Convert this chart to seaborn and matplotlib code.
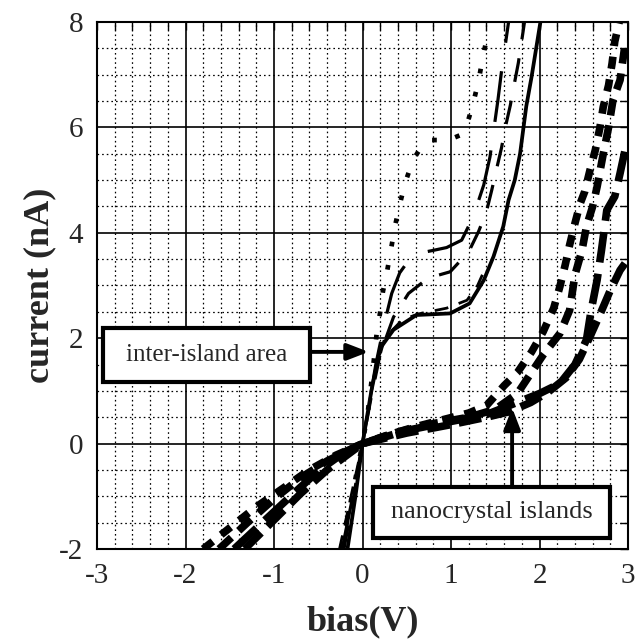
import numpy as np
import pandas as pd
import seaborn as sns
import matplotlib.pyplot as plt
from matplotlib.patches import Rectangle
from matplotlib.ticker import MultipleLocator

# inter-island area curves
dot_x = [-0.24, -0.12, 0.0, 0.06, 0.11, 0.16, 0.20, 0.23, 0.28, 0.32, 0.37, 0.42, 0.48, 0.57, 0.66, 0.75, 0.86, 0.97, 1.10, 1.18, 1.25, 1.31, 1.35, 1.40]
dot_y = [-2.0, -1.0, 0.0, 0.6, 1.3, 2.09, 2.50, 2.88, 3.29, 3.67, 4.15, 4.53, 4.94, 5.38, 5.62, 5.76, 5.76, 5.76, 5.85, 6.05, 6.46, 6.87, 7.25, 7.66]

ldash_x = [-0.23, -0.11, 0.0, 0.08, 0.15, 0.25, 0.33, 0.42, 0.54, 0.66, 0.78, 0.95, 1.12, 1.25, 1.37, 1.44, 1.53, 1.57, 1.65]
ldash_y = [-2.0, -1.0, 0.0, 0.8, 1.5, 2.3, 2.85, 3.24, 3.52, 3.62, 3.66, 3.72, 3.86, 4.30, 4.91, 5.44, 6.52, 7.06, 8.0]

sdash_x = [-0.21, -0.10, 0.0, 0.10, 0.20, 0.35, 0.52, 0.74, 0.99, 1.20, 1.31, 1.40, 1.46, 1.52, 1.57, 1.62, 1.67, 1.72, 1.76, 1.80, 1.83]
sdash_y = [-2.0, -1.0, 0.0, 0.9, 1.7, 2.40, 2.85, 3.14, 3.26, 3.64, 4.02, 4.40, 4.81, 5.25, 5.61, 6.05, 6.42, 6.87, 7.22, 7.66, 8.0]

solid_x = [-0.17, -0.08, 0.0, 0.10, 0.20, 0.35, 0.61, 0.99, 1.21, 1.37, 1.48, 1.59, 1.65, 1.72, 1.78, 1.85, 1.91, 2.01]
solid_y = [-2.0, -1.0, 0.0, 1.0, 1.81, 2.16, 2.44, 2.47, 2.66, 3.10, 3.55, 4.12, 4.62, 5.00, 5.50, 6.40, 6.96, 8.0]

fdash_x = [-0.26, -0.13, 0.0, 0.12, 0.25, 0.45, 0.63, 0.95, 1.18, 1.30, 1.38]
fdash_y = [-2.0, -1.0, 0.0, 1.2, 2.0, 2.35, 2.46, 2.57, 2.72, 3.00, 3.30]

# nanocrystal island curves
nc1_x = [-1.80, -1.50, -1.20, -0.90, -0.60, -0.30, 0.0, 0.30, 0.60, 0.90, 1.20, 1.40, 1.60, 1.75, 1.91, 2.04, 2.16, 2.23, 2.29, 2.34, 2.40, 2.46, 2.51, 2.57, 2.63, 2.68, 2.72, 2.78, 2.82, 2.85, 2.90]
nc1_y = [-2.0, -1.6, -1.2, -0.85, -0.5, -0.22, 0.0, 0.17, 0.32, 0.45, 0.58, 0.72, 1.10, 1.35, 1.74, 2.12, 2.57, 2.98, 3.39, 3.77, 4.18, 4.56, 4.78, 5.19, 5.57, 5.98, 6.39, 6.80, 7.22, 7.63, 8.0]

nc2_x = [-1.62, -1.30, -1.00, -0.70, -0.40, 0.0, 0.40, 0.80, 1.20, 1.50, 1.75, 2.04, 2.23, 2.34, 2.40, 2.48, 2.53, 2.60, 2.65, 2.72, 2.78, 2.83, 2.91, 2.96]
nc2_y = [-2.0, -1.5, -1.05, -0.65, -0.33, 0.0, 0.22, 0.38, 0.50, 0.65, 0.95, 1.68, 2.09, 2.53, 3.20, 3.67, 4.12, 4.50, 4.87, 5.50, 6.00, 6.52, 6.90, 7.50]

nc3_x = [-1.45, -1.10, -0.80, -0.50, -0.20, 0.0, 0.50, 1.00, 1.40, 1.70, 2.00, 2.23, 2.40, 2.53, 2.58, 2.65, 2.70, 2.76, 2.85, 2.91, 2.97]
nc3_y = [-2.0, -1.45, -0.98, -0.52, -0.16, 0.0, 0.25, 0.42, 0.55, 0.75, 0.95, 1.14, 1.50, 1.97, 2.50, 3.10, 3.67, 4.43, 4.69, 5.13, 5.60]

nc4_x = [-1.33, -1.00, -0.70, -0.40, 0.0, 0.50, 1.00, 1.40, 1.65, 1.90, 2.10, 2.30, 2.45, 2.57, 2.68, 2.80, 2.91, 3.00]
nc4_y = [-2.0, -1.45, -0.95, -0.50, 0.0, 0.20, 0.36, 0.50, 0.60, 0.78, 0.98, 1.25, 1.60, 2.03, 2.44, 2.91, 3.29, 3.50]

sns.set_style('white')
plt.rcParams['font.family'] = ['Liberation Serif', 'DejaVu Serif']
plt.rcParams['axes.unicode_minus'] = False

fig = plt.figure(figsize=(6.36, 6.42), dpi=100)
ax = fig.add_axes([0.1525, 0.1449, 0.835, 0.8208])

# grid
ax.xaxis.set_major_locator(MultipleLocator(1))
ax.xaxis.set_minor_locator(MultipleLocator(0.2))
ax.yaxis.set_major_locator(MultipleLocator(2))
ax.yaxis.set_minor_locator(MultipleLocator(0.5))
ax.grid(which='minor', color='black', linestyle=(0, (1.3, 2.4)), linewidth=0.9)
ax.grid(which='major', color='black', linestyle='-', linewidth=1.2)
ax.set_axisbelow(True)

inter = [
    (dot_x, dot_y, (0, (1.0, 4.0)), 3.4),
    (ldash_x, ldash_y, (0, (16, 9)), 2.3),
    (sdash_x, sdash_y, (0, (7.5, 6)), 2.3),
    (fdash_x, fdash_y, (0, (5, 4)), 2.0),
    (solid_x, solid_y, '-', 2.7),
]
for xs, ys, ls, lw in inter:
    sns.lineplot(x=xs, y=ys, sort=False, estimator=None, color='black',
                 linewidth=lw, linestyle=ls, ax=ax)

nano = [
    (nc1_x, nc1_y, (0, (1.6, 1.4))),
    (nc2_x, nc2_y, (0, (2.2, 1.3))),
    (nc3_x, nc3_y, (0, (4.0, 1.5))),
    (nc4_x, nc4_y, (0, (3.0, 1.2))),
]
for xs, ys, ls in nano:
    sns.lineplot(x=xs, y=ys, sort=False, estimator=None, color='black',
                 linewidth=5.5, linestyle=ls, ax=ax)
for line in ax.lines:
    line.set_dash_capstyle('butt')

ax.set_xlim(-3, 3)
ax.set_ylim(-2, 8)

ax.tick_params(which='both', direction='in', top=True, right=True,
               color='black', width=1)
ax.tick_params(which='major', length=6, labelsize=21, pad=10)
ax.tick_params(which='minor', length=6)
for s in ax.spines.values():
    s.set_color('black')
    s.set_linewidth(1.5)

ax.set_xlabel('bias(V)', fontsize=26, fontweight='bold', labelpad=12)
ax.set_ylabel('current (nA)', fontsize=26, fontweight='bold', labelpad=2)

# annotation boxes with arrows
boxes = [
    ('inter-island area', (-2.93, 1.17), 2.34, 1.02, 18, (-0.59, 1.74), (0.07, 1.74)),
    ('nanocrystal islands', (0.12, -1.79), 2.68, 0.97, 19, (1.69, -0.82), (1.69, 0.68)),
]
for label, (bx, by), bw, bh, fs, start, tip in boxes:
    ax.annotate('', xy=tip, xytext=start,
                arrowprops=dict(arrowstyle='-|>,head_length=1.3,head_width=0.5',
                                color='black', lw=2.8, shrinkA=0, shrinkB=0),
                zorder=6)
    ax.add_patch(Rectangle((bx, by), bw, bh, facecolor='white', edgecolor='black',
                           linewidth=3, zorder=7))
    ax.text(bx + bw / 2, by + bh / 2, label, fontsize=fs, ha='center',
            va='center', zorder=8)

fig.savefig('out.png', dpi=100)
